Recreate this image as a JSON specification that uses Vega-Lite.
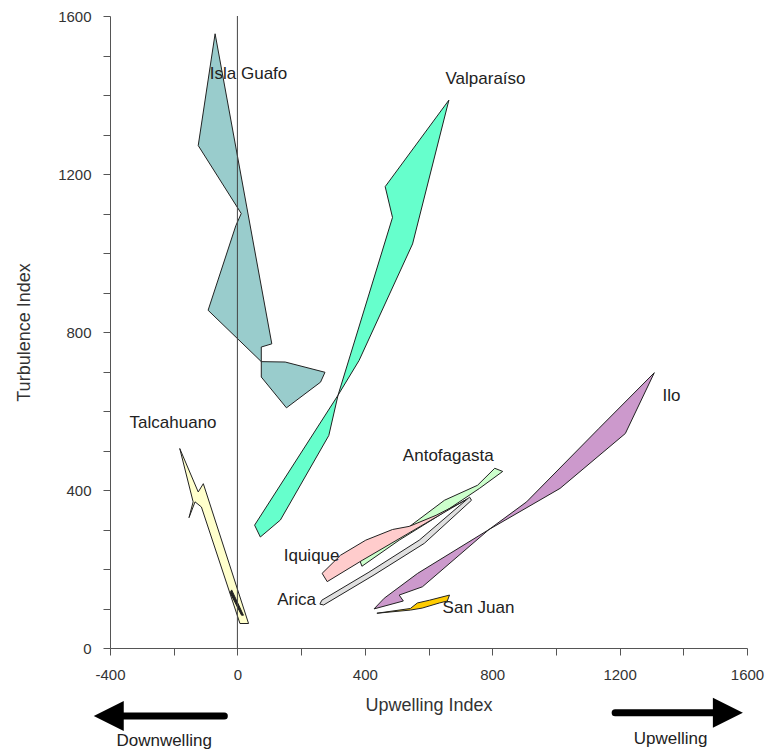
{
  "$schema": "https://vega.github.io/schema/vega-lite/v6.json",
  "width": 637,
  "height": 632,
  "autosize": "none",
  "padding": {"left": 110, "top": 16, "right": 18, "bottom": 103},
  "background": "white",
  "config": {"view": {"stroke": null}, "font": "Liberation Sans"},
  "datasets": {
    "poly": [
      {"s": "Isla Guafo", "i": 1, "x": -70, "y": 1555},
      {"s": "Isla Guafo", "i": 2, "x": 108, "y": 770},
      {"s": "Isla Guafo", "i": 3, "x": 75, "y": 762},
      {"s": "Isla Guafo", "i": 4, "x": 75, "y": 725},
      {"s": "Isla Guafo", "i": 5, "x": 150, "y": 724},
      {"s": "Isla Guafo", "i": 6, "x": 275, "y": 698},
      {"s": "Isla Guafo", "i": 7, "x": 261, "y": 673},
      {"s": "Isla Guafo", "i": 8, "x": 154, "y": 608},
      {"s": "Isla Guafo", "i": 9, "x": 75, "y": 686},
      {"s": "Isla Guafo", "i": 10, "x": 75, "y": 725},
      {"s": "Isla Guafo", "i": 11, "x": -92, "y": 855},
      {"s": "Isla Guafo", "i": 12, "x": -5, "y": 1069},
      {"s": "Isla Guafo", "i": 13, "x": 12, "y": 1100},
      {"s": "Isla Guafo", "i": 14, "x": -123, "y": 1272},
      {"s": "Isla Guafo", "i": 15, "x": -70, "y": 1555},
      {"s": "Valparaíso", "i": 1, "x": 664, "y": 1387},
      {"s": "Valparaíso", "i": 2, "x": 550, "y": 1023},
      {"s": "Valparaíso", "i": 3, "x": 382, "y": 728},
      {"s": "Valparaíso", "i": 4, "x": 316, "y": 640},
      {"s": "Valparaíso", "i": 5, "x": 287, "y": 538},
      {"s": "Valparaíso", "i": 6, "x": 135, "y": 324},
      {"s": "Valparaíso", "i": 7, "x": 72, "y": 281},
      {"s": "Valparaíso", "i": 8, "x": 54, "y": 311},
      {"s": "Valparaíso", "i": 9, "x": 316, "y": 640},
      {"s": "Valparaíso", "i": 10, "x": 487, "y": 1090},
      {"s": "Valparaíso", "i": 11, "x": 464, "y": 1168},
      {"s": "Valparaíso", "i": 12, "x": 664, "y": 1387},
      {"s": "Talcahuano", "i": 1, "x": -181, "y": 505},
      {"s": "Talcahuano", "i": 2, "x": -123, "y": 395},
      {"s": "Talcahuano", "i": 3, "x": -107, "y": 416},
      {"s": "Talcahuano", "i": 4, "x": 35, "y": 62},
      {"s": "Talcahuano", "i": 5, "x": 8, "y": 62},
      {"s": "Talcahuano", "i": 6, "x": -113, "y": 357},
      {"s": "Talcahuano", "i": 7, "x": -133, "y": 370},
      {"s": "Talcahuano", "i": 8, "x": -152, "y": 330},
      {"s": "Talcahuano", "i": 9, "x": -139, "y": 370},
      {"s": "Talcahuano", "i": 10, "x": -181, "y": 505},
      {"s": "Talcahuano dark", "i": 1, "x": -18, "y": 147},
      {"s": "Talcahuano dark", "i": 2, "x": 19, "y": 83},
      {"s": "Talcahuano dark", "i": 3, "x": 13, "y": 83},
      {"s": "Talcahuano dark", "i": 4, "x": -23, "y": 140},
      {"s": "Talcahuano dark", "i": 5, "x": -18, "y": 147},
      {"s": "Ilo", "i": 1, "x": 1309, "y": 697},
      {"s": "Ilo", "i": 2, "x": 1218, "y": 543},
      {"s": "Ilo", "i": 3, "x": 1013, "y": 404},
      {"s": "Ilo", "i": 4, "x": 790, "y": 300},
      {"s": "Ilo", "i": 5, "x": 581, "y": 155},
      {"s": "Ilo", "i": 6, "x": 508, "y": 134},
      {"s": "Ilo", "i": 7, "x": 521, "y": 119},
      {"s": "Ilo", "i": 8, "x": 429, "y": 99},
      {"s": "Ilo", "i": 9, "x": 461, "y": 126},
      {"s": "Ilo", "i": 10, "x": 566, "y": 189},
      {"s": "Ilo", "i": 11, "x": 790, "y": 300},
      {"s": "Ilo", "i": 12, "x": 908, "y": 370},
      {"s": "Ilo", "i": 13, "x": 1134, "y": 555},
      {"s": "Ilo", "i": 14, "x": 1309, "y": 697},
      {"s": "San Juan", "i": 1, "x": 438, "y": 88},
      {"s": "San Juan", "i": 2, "x": 543, "y": 100},
      {"s": "San Juan", "i": 3, "x": 565, "y": 114},
      {"s": "San Juan", "i": 4, "x": 603, "y": 121},
      {"s": "San Juan", "i": 5, "x": 666, "y": 134},
      {"s": "San Juan", "i": 6, "x": 659, "y": 119},
      {"s": "San Juan", "i": 7, "x": 634, "y": 114},
      {"s": "San Juan", "i": 8, "x": 580, "y": 101},
      {"s": "San Juan", "i": 9, "x": 543, "y": 96},
      {"s": "San Juan", "i": 10, "x": 438, "y": 88},
      {"s": "Antofagasta", "i": 1, "x": 808, "y": 455},
      {"s": "Antofagasta", "i": 2, "x": 833, "y": 447},
      {"s": "Antofagasta", "i": 3, "x": 760, "y": 404},
      {"s": "Antofagasta", "i": 4, "x": 634, "y": 336},
      {"s": "Antofagasta", "i": 5, "x": 508, "y": 273},
      {"s": "Antofagasta", "i": 6, "x": 391, "y": 207},
      {"s": "Antofagasta", "i": 7, "x": 385, "y": 220},
      {"s": "Antofagasta", "i": 8, "x": 546, "y": 311},
      {"s": "Antofagasta", "i": 9, "x": 650, "y": 374},
      {"s": "Antofagasta", "i": 10, "x": 754, "y": 412},
      {"s": "Antofagasta", "i": 11, "x": 808, "y": 455},
      {"s": "Iquique", "i": 1, "x": 266, "y": 189},
      {"s": "Iquique", "i": 2, "x": 324, "y": 235},
      {"s": "Iquique", "i": 3, "x": 403, "y": 273},
      {"s": "Iquique", "i": 4, "x": 487, "y": 300},
      {"s": "Iquique", "i": 5, "x": 540, "y": 308},
      {"s": "Iquique", "i": 6, "x": 624, "y": 336},
      {"s": "Iquique", "i": 7, "x": 697, "y": 366},
      {"s": "Iquique", "i": 8, "x": 723, "y": 378},
      {"s": "Iquique", "i": 9, "x": 392, "y": 222},
      {"s": "Iquique", "i": 10, "x": 282, "y": 168},
      {"s": "Iquique", "i": 11, "x": 266, "y": 189},
      {"s": "Arica", "i": 1, "x": 259, "y": 111},
      {"s": "Arica", "i": 2, "x": 265, "y": 121},
      {"s": "Arica", "i": 3, "x": 413, "y": 192},
      {"s": "Arica", "i": 4, "x": 571, "y": 273},
      {"s": "Arica", "i": 5, "x": 729, "y": 382},
      {"s": "Arica", "i": 6, "x": 735, "y": 374},
      {"s": "Arica", "i": 7, "x": 587, "y": 265},
      {"s": "Arica", "i": 8, "x": 429, "y": 185},
      {"s": "Arica", "i": 9, "x": 271, "y": 109},
      {"s": "Arica", "i": 10, "x": 259, "y": 111}
    ],
    "labels": [
      {"name": "Isla Guafo", "x": 35, "y": 1453},
      {"name": "Valparaíso", "x": 779, "y": 1441},
      {"name": "Talcahuano", "x": -202, "y": 569},
      {"name": "Ilo", "x": 1363, "y": 637},
      {"name": "Antofagasta", "x": 662, "y": 485},
      {"name": "Iquique", "x": 233, "y": 233},
      {"name": "Arica", "x": 186, "y": 121},
      {"name": "San Juan", "x": 757, "y": 101}
    ],
    "arrowShafts": [
      {"x": -375, "x2": -41, "y": -172},
      {"x": 1186, "x2": 1502, "y": -164}
    ],
    "arrowHeads": [
      {"dir": "left", "x": -404, "y": -172},
      {"dir": "right", "x": 1540, "y": -164}
    ],
    "arrowText": [
      {"name": "Downwelling", "x": -230, "y": -235},
      {"name": "Upwelling", "x": 1360, "y": -230}
    ],
    "zero": [{"x": 0, "y": 0, "y2": 1600}]
  },
  "data": {"name": "poly"},
  "encoding": {
    "x": {
      "field": "x", "type": "quantitative",
      "scale": {"domain": [-400, 1600], "nice": false, "zero": false},
      "axis": {
        "title": "Upwelling Index",
        "values": [-400, -200, 0, 200, 400, 600, 800, 1000, 1200, 1400, 1600],
        "labelExpr": "datum.value % 400 === 0 ? '' + datum.value : ''",
        "grid": false, "tickSize": 7, "domainColor": "#555", "tickColor": "#555",
        "labelFontSize": 15, "labelColor": "#333", "labelPadding": 12, "labelFlush": false,
        "titleFontSize": 18, "titleFontWeight": "normal", "titleColor": "#333", "titlePadding": 14
      }
    },
    "y": {
      "field": "y", "type": "quantitative",
      "scale": {"domain": [0, 1600], "nice": false, "zero": false},
      "axis": {
        "title": "Turbulence Index",
        "values": [0, 100, 200, 300, 400, 500, 600, 700, 800, 900, 1000, 1100, 1200, 1300, 1400, 1500, 1600],
        "labelExpr": "datum.value % 400 === 0 ? '' + datum.value : ''",
        "grid": false, "tickSize": 7, "domainColor": "#555", "tickColor": "#555",
        "labelFontSize": 15, "labelColor": "#333", "labelPadding": 12, "labelFlush": false,
        "titleFontSize": 18, "titleFontWeight": "normal", "titleColor": "#333", "titlePadding": 24
      }
    }
  },
  "layer": [
    {"transform": [{"filter": "datum.s === 'Isla Guafo'"}], "mark": {"type": "line", "fill": "#99CCCC", "stroke": "#222", "strokeWidth": 1}, "encoding": {"order": {"field": "i"}}},
    {"transform": [{"filter": "datum.s === 'Valparaíso'"}], "mark": {"type": "line", "fill": "#66FFCC", "stroke": "#222", "strokeWidth": 1}, "encoding": {"order": {"field": "i"}}},
    {"transform": [{"filter": "datum.s === 'Talcahuano'"}], "mark": {"type": "line", "fill": "#FFFFCC", "stroke": "#222", "strokeWidth": 1}, "encoding": {"order": {"field": "i"}}},
    {"transform": [{"filter": "datum.s === 'Talcahuano dark'"}], "mark": {"type": "line", "fill": "#222", "stroke": "#222", "strokeWidth": 1}, "encoding": {"order": {"field": "i"}}},
    {"transform": [{"filter": "datum.s === 'Ilo'"}], "mark": {"type": "line", "fill": "#CC99CC", "stroke": "#222", "strokeWidth": 1}, "encoding": {"order": {"field": "i"}}},
    {"transform": [{"filter": "datum.s === 'San Juan'"}], "mark": {"type": "line", "fill": "#FFCC00", "stroke": "#222", "strokeWidth": 1}, "encoding": {"order": {"field": "i"}}},
    {"transform": [{"filter": "datum.s === 'Antofagasta'"}], "mark": {"type": "line", "fill": "#CCFFCC", "stroke": "#222", "strokeWidth": 1}, "encoding": {"order": {"field": "i"}}},
    {"transform": [{"filter": "datum.s === 'Iquique'"}], "mark": {"type": "line", "fill": "#FFCCCC", "stroke": "#222", "strokeWidth": 1}, "encoding": {"order": {"field": "i"}}},
    {"transform": [{"filter": "datum.s === 'Arica'"}], "mark": {"type": "line", "fill": "#E0E0E0", "stroke": "#222", "strokeWidth": 1}, "encoding": {"order": {"field": "i"}}},
    {"data": {"name": "zero"}, "mark": {"type": "rule", "color": "#444", "strokeWidth": 1}, "encoding": {"y2": {"field": "y2"}}},
    {"data": {"name": "labels"}, "mark": {"type": "text", "fontSize": 17, "color": "#222", "align": "center", "baseline": "middle"}, "encoding": {"text": {"field": "name"}}},
    {"data": {"name": "arrowShafts"}, "mark": {"type": "rule", "color": "black", "strokeWidth": 7, "strokeCap": "round"}, "encoding": {"x2": {"field": "x2"}}},
    {"data": {"name": "arrowHeads"}, "transform": [{"filter": "datum.dir === 'left'"}], "mark": {"type": "point", "shape": "M-1,0L1,-1L1,1Z", "size": 900, "filled": true, "color": "black", "opacity": 1}},
    {"data": {"name": "arrowHeads"}, "transform": [{"filter": "datum.dir === 'right'"}], "mark": {"type": "point", "shape": "M1,0L-1,-1L-1,1Z", "size": 900, "filled": true, "color": "black", "opacity": 1}},
    {"data": {"name": "arrowText"}, "mark": {"type": "text", "fontSize": 17, "color": "#222", "align": "center", "baseline": "middle"}, "encoding": {"text": {"field": "name"}}}
  ]
}
